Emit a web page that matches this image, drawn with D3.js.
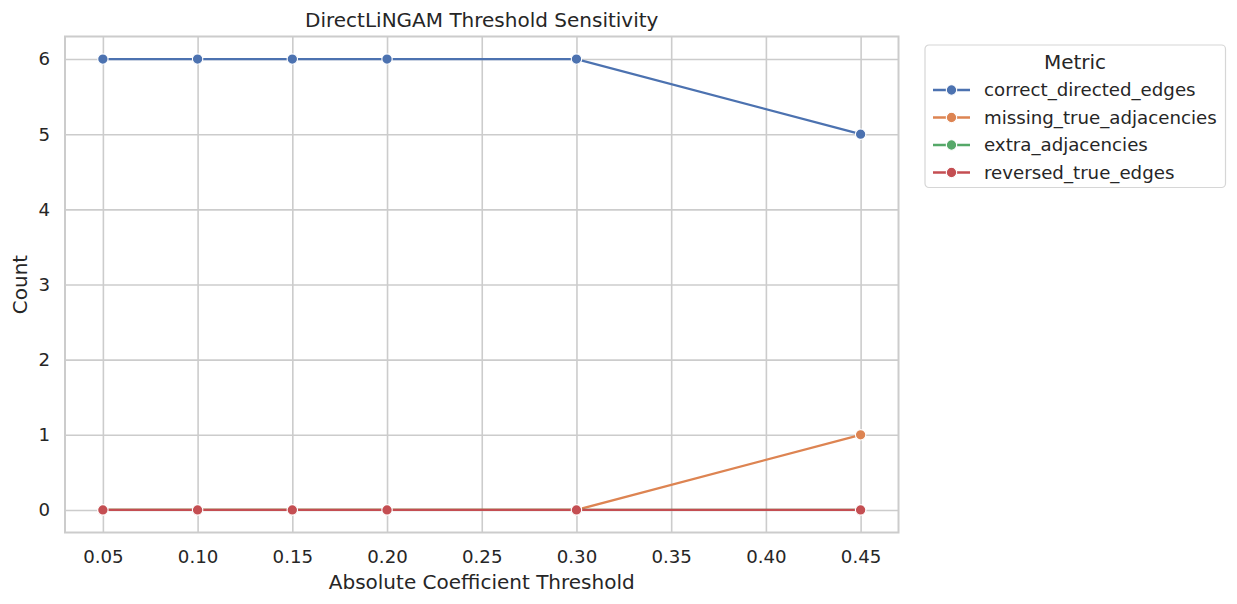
<!DOCTYPE html>
<html>
<head>
<meta charset="utf-8">
<script src="https://cdn.jsdelivr.net/npm/d3@7"></script>
<style>
  body { margin: 0; background: #fff; }
  text { font-family: "DejaVu Sans", sans-serif; fill: #262626; }
</style>
</head>
<body>
<div id="chart"></div>
<script>
// thresholds and metric counts
const thresholds = [0.05, 0.10, 0.15, 0.20, 0.30, 0.45];
const metrics = ["correct_directed_edges", "missing_true_adjacencies", "extra_adjacencies", "reversed_true_edges"];
const correctDirected = [6, 6, 6, 6, 6, 5];
const missingTrue = [0, 0, 0, 0, 0, 1];
const extraAdj = [0, 0, 0, 0, 0, 0];
const reversedTrue = [0, 0, 0, 0, 0, 0];
const xTicks = [0.05, 0.10, 0.15, 0.20, 0.25, 0.30, 0.35, 0.40, 0.45];
const yTicks = [0, 1, 2, 3, 4, 5, 6];
const colors = ["#4C72B0", "#DD8452", "#55A868", "#C44E52"];

const series = [correctDirected, missingTrue, extraAdj, reversedTrue].map((vals, i) => ({
    name: metrics[i],
    color: colors[i],
    values: vals.map((v, j) => ({ x: thresholds[j], y: v }))
}));

const width = 1237, height = 604;
const plot = { left: 65, right: 898.5, top: 36.5, bottom: 532.5 };
const tickFont = 18.2, labelFont = 20;

const svg = d3.select("#chart").append("svg")
    .attr("width", width)
    .attr("height", height);

const x = d3.scaleLinear().domain([0.03, 0.47]).range([plot.left, plot.right]);
const y = d3.scaleLinear().domain([-0.3, 6.3]).range([plot.bottom, plot.top]);

// grid
svg.append("g")
    .attr("transform", `translate(0,${plot.bottom})`)
    .call(d3.axisBottom(x).tickValues(xTicks).tickSize(-(plot.bottom - plot.top)).tickFormat(d3.format(".2f")).tickPadding(18))
    .call(g => g.select(".domain").remove())
    .call(g => g.selectAll("line").attr("stroke", "#cccccc").attr("stroke-width", 1.6))
    .call(g => g.selectAll("text").attr("font-size", tickFont).attr("fill", "#262626"));

svg.append("g")
    .attr("transform", `translate(${plot.left},0)`)
    .call(d3.axisLeft(y).tickValues(yTicks).tickSize(-(plot.right - plot.left)).tickFormat(d3.format("d")).tickPadding(15))
    .call(g => g.select(".domain").remove())
    .call(g => g.selectAll("line").attr("stroke", "#cccccc").attr("stroke-width", 1.6))
    .call(g => g.selectAll("text").attr("font-size", tickFont).attr("fill", "#262626"));

// frame
svg.append("rect")
    .attr("x", plot.left)
    .attr("y", plot.top)
    .attr("width", plot.right - plot.left)
    .attr("height", plot.bottom - plot.top)
    .attr("fill", "none")
    .attr("stroke", "#cccccc")
    .attr("stroke-width", 2);

const line = d3.line().x(d => x(d.x)).y(d => y(d.y));

const sg = svg.selectAll("g.series")
    .data(series)
    .enter()
    .append("g")
        .attr("class", "series");

sg.append("path")
    .attr("d", d => line(d.values))
    .attr("fill", "none")
    .attr("stroke", d => d.color)
    .attr("stroke-width", 2.3);

sg.selectAll("circle")
    .data(d => d.values.map(v => ({ ...v, color: d.color })))
    .enter()
    .append("circle")
        .attr("cx", d => x(d.x))
        .attr("cy", d => y(d.y))
        .attr("r", 5.2)
        .attr("fill", d => d.color)
        .attr("stroke", "#fff")
        .attr("stroke-width", 1.1);

// titles
svg.append("text")
    .attr("x", (plot.left + plot.right) / 2)
    .attr("y", 27)
    .attr("text-anchor", "middle")
    .attr("font-size", labelFont)
    .text("DirectLiNGAM Threshold Sensitivity");

svg.append("text")
    .attr("x", (plot.left + plot.right) / 2)
    .attr("y", 589)
    .attr("text-anchor", "middle")
    .attr("font-size", labelFont)
    .text("Absolute Coefficient Threshold");

svg.append("text")
    .attr("transform", `translate(27,${(plot.top + plot.bottom) / 2}) rotate(-90)`)
    .attr("text-anchor", "middle")
    .attr("font-size", labelFont)
    .text("Count");

// legend
const legend = svg.append("g").attr("transform", "translate(925,45)");
legend.append("rect")
    .attr("width", 300.5)
    .attr("height", 142.5)
    .attr("rx", 4)
    .attr("fill", "#fff")
    .attr("stroke", "#d6d6d6")
    .attr("stroke-width", 1.2);

legend.append("text")
    .attr("x", 150)
    .attr("y", 24)
    .attr("text-anchor", "middle")
    .attr("font-size", labelFont)
    .text("Metric");

const item = legend.selectAll("g.item")
    .data(series)
    .enter()
    .append("g")
        .attr("class", "item")
        .attr("transform", (d, i) => `translate(0,${45 + i * 27.5})`);

item.append("line")
    .attr("x1", 8).attr("x2", 45)
    .attr("stroke", d => d.color)
    .attr("stroke-width", 2.3);

item.append("circle")
    .attr("cx", 26.5)
    .attr("r", 5.2)
    .attr("fill", d => d.color)
    .attr("stroke", "#fff")
    .attr("stroke-width", 1.1);

item.append("text")
    .attr("x", 59)
    .attr("dy", "0.35em")
    .attr("font-size", tickFont)
    .text(d => d.name);
</script>
</body>
</html>
